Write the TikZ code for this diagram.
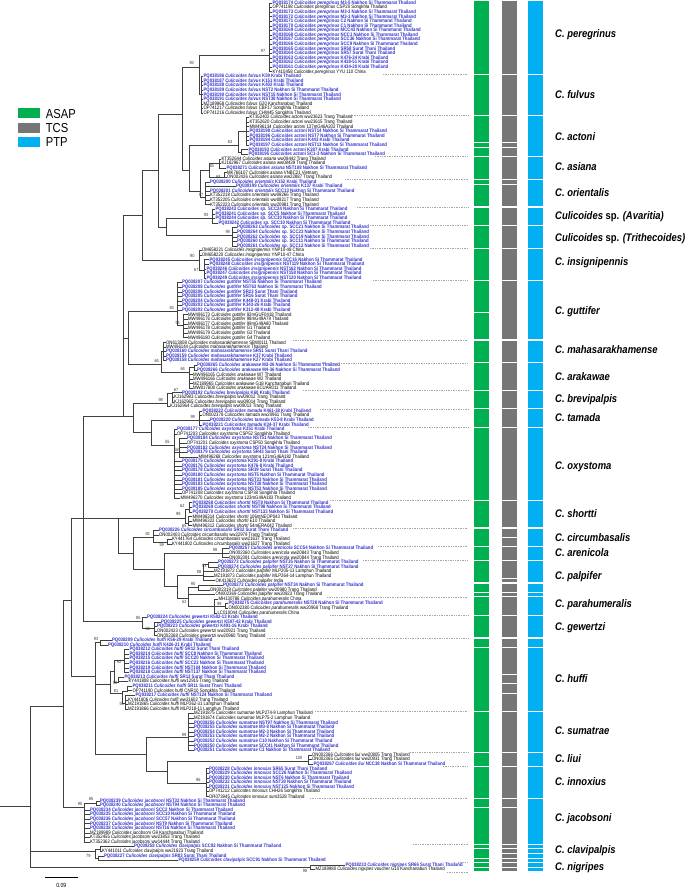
\documentclass[tikz,border=0pt]{standalone}
\usepackage{fontspec}
\setmainfont{Liberation Sans}
\newfontfamily\narrow[FakeStretch=0.86]{Liberation Sans}
\usepackage{xcolor}
\usepackage{tikz}

\definecolor{pqblue}{RGB}{51,51,204}
\definecolor{asapgreen}{RGB}{0,176,80}
\definecolor{tcsgray}{RGB}{118,118,118}
\definecolor{ptpblue}{RGB}{0,176,240}

\tikzset{
  branch/.style={draw=black!75, line width=0.6pt},
  leaf/.style={anchor=west, inner xsep=0.4pt, inner ysep=0pt, font=\narrow\fontsize{5}{5}\selectfont},
  pqtxt/.style={text=pqblue, font=\narrow\fontsize{5}{5}\selectfont\bfseries},
  boot/.style={font=\narrow\fontsize{4.5}{4.5}\selectfont, inner sep=0pt, text=black!80},
  species/.style={anchor=west, inner sep=0pt, font=\narrow\fontsize{11}{11}\selectfont\bfseries\itshape},
  keytext/.style={anchor=west, inner sep=0pt, font=\narrow\fontsize{13}{13}\selectfont},
  keybox/.style={minimum width=21.7pt, minimum height=10pt, inner sep=0pt},
  sepline/.style={draw=black!35, line width=0.4pt, dash pattern=on 1pt off 0.7pt},
  asap/.style={fill=asapgreen}, tcs/.style={fill=tcsgray}, ptp/.style={fill=ptpblue}
}

% one leaf per row, rows 4.585pt apart
\newcommand\pqleaf[5]{\node[leaf,pqtxt] (r#1) at (#2,{3+4.585*(#1-1)}) {#3 \textit{Culicoides #4} #5};}
\newcommand\gbleaf[5]{\node[leaf] (r#1) at (#2,{3+4.585*(#1-1)}) {#3 \textit{Culicoides #4} #5};}
% coloured block over rows #3..#4
\newcommand\colseg[4]{\fill[#1] (#2,{3+4.585*(#3-1)-1.75}) rectangle ++(14.7,{4.585*(#4-#3)+3.5});}

\begin{document}
\begin{tikzpicture}[x=1pt,y=-1pt]
\useasboundingbox (0,0) rectangle (685,891);

% legend
\node[keybox,asap] (kasap) at (29.2,113.3) {};
\node[keybox,tcs] (ktcs) at (29.2,127.7) {};
\node[keybox,ptp] (kptp) at (29.2,142) {};
\node[keytext] (tasap) at (45.7,113.6) {ASAP};
\node[keytext] (ttcs) at (45.7,127.9) {TCS};
\node[keytext] (tptp) at (45.7,142.2) {PTP};

% leaves
\pqleaf{1}{272}{PQ038174}{peregrinus}{M3-5 Nakhon Si Thammarat Thailand}
\gbleaf{2}{272}{OP741198}{peregrinus}{CSP20 Songkhla Thailand}
\pqleaf{3}{272}{PQ038173}{peregrinus}{M3-3 Nakhon Si Thammarat Thailand}
\pqleaf{4}{272}{PQ038172}{peregrinus}{M3-1 Nakhon Si Thammarat Thailand}
\pqleaf{5}{272}{PQ038171}{peregrinus}{C2 Nakhon Si Thammarat Thailand}
\pqleaf{6}{272}{PQ038170}{peregrinus}{C1 Nakhon Si Thammarat Thailand}
\pqleaf{7}{272}{PQ038169}{peregrinus}{MCC43 Nakhon Si Thammarat Thailand}
\pqleaf{8}{272}{PQ038168}{peregrinus}{NCC1 Nakhon Si Thammarat Thailand}
\pqleaf{9}{272}{PQ038167}{peregrinus}{SCC36 Nakhon Si Thammarat Thailand}
\pqleaf{10}{272}{PQ038166}{peregrinus}{SCC9 Nakhon Si Thammarat Thailand}
\pqleaf{11}{272}{PQ038165}{peregrinus}{SR58 Surat Thani Thailand}
\pqleaf{12}{272}{PQ038164}{peregrinus}{SR57 Surat Thani Thailand}
\pqleaf{13}{272}{PQ038163}{peregrinus}{K476-34 Krabi Thailand}
\pqleaf{14}{272}{PQ038162}{peregrinus}{K438-51 Krabi Thailand}
\pqleaf{15}{272}{PQ038161}{peregrinus}{K434-20 Krabi Thailand}
\gbleaf{16}{272}{KY410458}{peregrinus}{YYU 110 China}
\pqleaf{17}{203}{PQ038186}{fulvus}{K59 Krabi Thailand}
\pqleaf{18}{203}{PQ038187}{fulvus}{K151 Krabi Thailand}
\pqleaf{19}{203}{PQ038188}{fulvus}{K402 Krabi Thailand}
\pqleaf{20}{203}{PQ038189}{fulvus}{NST2 Nakhon Si Thammarat Thailand}
\pqleaf{21}{203}{PQ038190}{fulvus}{NST15 Nakhon Si Thammarat Thailand}
\pqleaf{22}{203}{PQ038191}{fulvus}{NST38 Nakhon Si Thammarat Thailand}
\gbleaf{23}{203}{MZ189968}{fulvus}{G20 Kanchanaburi Thailand}
\gbleaf{24}{203}{OP741217}{fulvus}{CBF17 Songkhla Thailand}
\gbleaf{25}{203}{OP741216}{fulvus}{CHW45 Songkhla Thailand}
\gbleaf{26}{249}{KT352402}{actoni}{ww23623 Trang Thailand}
\gbleaf{27}{249}{KT352620}{actoni}{ww23615 Trang Thailand}
\gbleaf{28}{249}{MW496134}{actoni}{137mG46A202 Thailand}
\pqleaf{29}{249}{PQ038198}{actoni}{NST14 Nakhon Si Thammarat Thailand}
\pqleaf{30}{249}{PQ038196}{actoni}{NST7 Nakhon Si Thammarat Thailand}
\pqleaf{31}{249}{PQ038194}{actoni}{K443 Krabi Thailand}
\pqleaf{32}{249}{PQ038197}{actoni}{NST13 Nakhon Si Thammarat Thailand}
\pqleaf{33}{248}{PQ038193}{actoni}{K287 Krabi Thailand}
\pqleaf{34}{248}{PQ038195}{actoni}{SC1-3 Nakhon Si Thammarat Thailand}
\gbleaf{35}{221}{KT352644}{asiana}{ww08442 Trang Thailand}
\gbleaf{36}{221}{KJ162967}{asiana}{ww08439 Trang Thailand}
\pqleaf{37}{226}{PQ038271}{asiana}{NST108 Nakhon Si Thammarat Thailand}
\gbleaf{38}{226.5}{MK766107}{asiana}{VNBC21 Vietnam}
\gbleaf{39}{226.5}{ON002426}{asiana}{ww22887 Trang Thailand}
\pqleaf{40}{209.5}{PQ038200}{orientalis}{K152 Krabi Thailand}
\pqleaf{41}{235.5}{PQ038199}{orientalis}{K137 Krabi Thailand}
\pqleaf{42}{209.5}{PQ038201}{orientalis}{SCC13 Nakhon Si Thammarat Thailand}
\gbleaf{43}{209.5}{KT352218}{orientalis}{ww08266 Trang Thailand}
\gbleaf{44}{209.5}{KT352205}{orientalis}{ww08217 Trang Thailand}
\gbleaf{45}{209.5}{KT352223}{orientalis}{ww20981 Trang Thailand}
\pqleaf{46}{215}{PQ038243}{sp.}{SCC24 Nakhon Si Thammarat Thailand}
\pqleaf{47}{215}{PQ038241}{sp.}{SCC5 Nakhon Si Thammarat Thailand}
\pqleaf{48}{215}{PQ038244}{sp.}{SCC30 Nakhon Si Thammarat Thailand}
\pqleaf{49}{218}{PQ038242}{sp.}{SCC10 Nakhon Si Thammarat Thailand}
\pqleaf{50}{236.5}{PQ038263}{sp.}{SCC21 Nakhon Si Thammarat Thailand}
\pqleaf{51}{236.5}{PQ038264}{sp.}{SCC23 Nakhon Si Thammarat Thailand}
\pqleaf{52}{236.5}{PQ038262}{sp.}{SCC19 Nakhon Si Thammarat Thailand}
\pqleaf{53}{236.5}{PQ038260}{sp.}{SCC11 Nakhon Si Thammarat Thailand}
\pqleaf{54}{236.5}{PQ038261}{sp.}{SCC12 Nakhon Si Thammarat Thailand}
\gbleaf{55}{201.5}{OM658221}{insignipennis}{YNP10-48 China}
\gbleaf{56}{201.5}{OM658220}{insignipennis}{YNP10-47 China}
\pqleaf{57}{209}{PQ038245}{insignipennis}{SCC16 Nakhon Si Thammarat Thailand}
\pqleaf{58}{209}{PQ038248}{insignipennis}{NST119 Nakhon Si Thammarat Thailand}
\pqleaf{59}{206}{PQ038246}{insignipennis}{NST162 Nakhon Si Thammarat Thailand}
\pqleaf{60}{206}{PQ038247}{insignipennis}{NST158 Nakhon Si Thammarat Thailand}
\pqleaf{61}{206}{PQ038249}{insignipennis}{NST120 Nakhon Si Thammarat Thailand}
\pqleaf{62}{181.5}{PQ038207}{guttifer}{NST55 Nakhon Si Thammarat Thailand}
\pqleaf{63}{181.5}{PQ038208}{guttifer}{NST63 Nakhon Si Thammarat Thailand}
\pqleaf{64}{181.5}{PQ038206}{guttifer}{SR23 Surat Thani Thailand}
\pqleaf{65}{181.5}{PQ038205}{guttifer}{SR16 Surat Thani Thailand}
\pqleaf{66}{181.5}{PQ038204}{guttifer}{K448-01 Krabi Thailand}
\pqleaf{67}{181.5}{PQ038203}{guttifer}{K343-26 Krabi Thailand}
\pqleaf{68}{181.5}{PQ038202}{guttifer}{K312-48 Krabi Thailand}
\gbleaf{69}{187.5}{MW496173}{guttifer}{92mGUF0418 Thailand}
\gbleaf{70}{187.5}{MW496176}{guttifer}{98mG49A79 Thailand}
\gbleaf{71}{187.5}{MW496177}{guttifer}{99mG49A80 Thailand}
\gbleaf{72}{187.5}{MW496178}{guttifer}{G1 Thailand}
\gbleaf{73}{187.5}{MW496179}{guttifer}{G2 Thailand}
\gbleaf{74}{187.5}{MW496180}{guttifer}{G4 Thailand}
\gbleaf{75}{165.5}{ON613808}{mahasarakhamense}{SBW0111 Thailand}
\gbleaf{76}{165.5}{MW496144}{mahasarakhamensis}{Thailand}
\pqleaf{77}{165.5}{PQ038160}{mahasarakhamense}{SR51 Surat Thani Thailand}
\pqleaf{78}{165.5}{PQ038159}{mahasarakhamense}{K37 Krabi Thailand}
\pqleaf{79}{165.5}{PQ038158}{mahasarakhamense}{K27 Krabi Thailand}
\pqleaf{80}{196.5}{PQ038265}{arakawae}{M3-26 Nakhon Si Thammarat Thailand}
\pqleaf{81}{196.5}{PQ038266}{arakawae}{M4-36 Nakhon Si Thammarat Thailand}
\gbleaf{82}{192.5}{MW496165}{arakawae}{W7 Thailand}
\gbleaf{83}{192.5}{MW496166}{arakawae}{W2 Thailand}
\gbleaf{84}{192.5}{MZ189965}{arakawae}{G18 Kanchanaburi Thailand}
\gbleaf{85}{192.5}{MW817608}{arakawae}{6CUAR011 Thailand}
\pqleaf{86}{181.5}{PQ038192}{brevipalpis}{K60 Krabi Thailand}
\gbleaf{87}{173.5}{KJ162983}{brevipalpis}{ww09012 Trang Thailand}
\gbleaf{88}{173.5}{KJ162965}{brevipalpis}{ww09014 Trang Thailand}
\gbleaf{89}{169.5}{KJ162964}{brevipalpis}{ww09013 Trang Thailand}
\pqleaf{90}{202}{PQ038222}{tamada}{K461-38 Krabi Thailand}
\gbleaf{91}{202}{ON002378}{tamada}{ww20961 Trang Thailand}
\pqleaf{92}{209.5}{PQ038220}{tamada}{K53-8 Krabi Thailand}
\pqleaf{93}{202}{PQ038221}{tamada}{K34-37 Krabi Thailand}
\pqleaf{94}{176.5}{PQ038177}{oxystoma}{K351 Krabi Thailand}
\gbleaf{95}{176.5}{OP741203}{oxystoma}{CSP52 Songkhla Thailand}
\pqleaf{96}{186.5}{PQ038184}{oxystoma}{NST51 Nakhon Si Thammarat Thailand}
\gbleaf{97}{186.5}{OP741201}{oxystoma}{CSP50 Songkhla Thailand}
\pqleaf{98}{186.5}{PQ038182}{oxystoma}{NST34 Nakhon Si Thammarat Thailand}
\pqleaf{99}{186.5}{PQ038179}{oxystoma}{SR43 Surat Thani Thailand}
\gbleaf{100}{198}{MW496268}{oxystoma}{121mG46A182 Thailand}
\pqleaf{101}{181.5}{PQ038175}{oxystoma}{K291-8 Krabi Thailand}
\pqleaf{102}{181.5}{PQ038176}{oxystoma}{K476-8 Krabi Thailand}
\pqleaf{103}{181.5}{PQ038178}{oxystoma}{SR39 Surat Thani Thailand}
\pqleaf{104}{181.5}{PQ038180}{oxystoma}{NST5 Nakhon Si Thammarat Thailand}
\pqleaf{105}{181.5}{PQ038181}{oxystoma}{NST33 Nakhon Si Thammarat Thailand}
\pqleaf{106}{181.5}{PQ038183}{oxystoma}{NST38 Nakhon Si Thammarat Thailand}
\pqleaf{107}{181.5}{PQ038185}{oxystoma}{NST52 Nakhon Si Thammarat Thailand}
\gbleaf{108}{181.5}{OP741208}{oxystoma}{CSP38 Songkhla Thailand}
\gbleaf{109}{180}{MW496270}{oxystoma}{123mG49A183 Thailand}
\pqleaf{110}{192}{PQ038268}{shortti}{NST8 Nakhon Si Thammarat Thailand}
\pqleaf{111}{192}{PQ038269}{shortti}{NST98 Nakhon Si Thammarat Thailand}
\pqleaf{112}{192}{PQ038270}{shortti}{NST133 Nakhon Si Thammarat Thailand}
\gbleaf{113}{192}{MW496314}{shortti}{106mNEOP043 Thailand}
\gbleaf{114}{192}{MW496322}{shortti}{E10 Thailand}
\gbleaf{115}{192}{MW496312}{shortti}{54mERA042 Thailand}
\pqleaf{116}{158.5}{PQ038226}{circumbasalis}{SR32 Surat Thani Thailand}
\gbleaf{117}{158.5}{ON002403}{circumbasalis}{ww22979 Trang Thailand}
\gbleaf{118}{171.5}{KY441764}{circumbasalis}{ww21637 Trang Thailand}
\gbleaf{119}{171.5}{KY441802}{circumbasalis}{ww21627 Trang Thailand}
\pqleaf{120}{228.5}{PQ038257}{arenicola}{SCC54 Nakhon Si Thammarat Thailand}
\gbleaf{121}{228.5}{ON002360}{arenicola}{ww20843 Trang Thailand}
\gbleaf{122}{228.5}{ON002391}{arenicola}{ww20844 Trang Thailand}
\pqleaf{123}{217.5}{PQ038273}{palpifer}{NST25 Nakhon Si Thammarat Thailand}
\pqleaf{124}{217.5}{PQ038274}{palpifer}{NST27 Nakhon Si Thammarat Thailand}
\gbleaf{125}{213.5}{MZ191872}{palpifer}{MLP205-13 Lamphun Thailand}
\gbleaf{126}{213.5}{MZ191873}{palpifer}{MLP264-14 Lamphun Thailand}
\gbleaf{127}{215}{OK413622}{palpifer}{India}
\pqleaf{128}{222.5}{PQ038272}{palpifer}{NST34 Nakhon Si Thammarat Thailand}
\gbleaf{129}{209.5}{ON002319}{palpifer}{ww20980 Trang Thailand}
\gbleaf{130}{215}{ON002369}{palpifer}{ww20923 Trang Thailand}
\gbleaf{131}{218}{MH130786}{parahumeralis}{China}
\pqleaf{132}{228}{PQ038275}{parahumeralis}{NST28 Nakhon Si Thammarat Thailand}
\gbleaf{133}{228}{ON002380}{parahumeralis}{ww20968 Trang Thailand}
\gbleaf{134}{217}{LC010044}{parahumeralis}{China}
\pqleaf{135}{146.5}{PQ038224}{gewertzi}{K502-13 Krabi Thailand}
\pqleaf{136}{160.5}{PQ038225}{gewertzi}{K507-42 Krabi Thailand}
\pqleaf{137}{156.5}{PQ038223}{gewertzi}{K491-16 Krabi Thailand}
\gbleaf{138}{156.5}{ON002423}{gewertzi}{ww20921 Trang Thailand}
\gbleaf{139}{156.5}{ON002368}{gewertzi}{ww20960 Trang Thailand}
\pqleaf{140}{111.5}{PQ038209}{huffi}{K56-29 Krabi Thailand}
\pqleaf{141}{107.5}{PQ038210}{huffi}{K426-21 Krabi Thailand}
\pqleaf{142}{129}{PQ038212}{huffi}{SR12 Surat Thani Thailand}
\pqleaf{143}{129}{PQ038214}{huffi}{SCC8 Nakhon Si Thammarat Thailand}
\pqleaf{144}{129}{PQ038215}{huffi}{SCC20 Nakhon Si Thammarat Thailand}
\pqleaf{145}{129}{PQ038216}{huffi}{SCC22 Nakhon Si Thammarat Thailand}
\pqleaf{146}{129}{PQ038219}{huffi}{NST104 Nakhon Si Thammarat Thailand}
\pqleaf{147}{129}{PQ038218}{huffi}{NST137 Nakhon Si Thammarat Thailand}
\pqleaf{148}{124}{PQ038213}{huffi}{SR13 Surat Thani Thailand}
\gbleaf{149}{128}{KY441808}{huffi}{ww12915 Trang Thailand}
\pqleaf{150}{132}{PQ038211}{huffi}{SR11 Surat Thani Thailand}
\gbleaf{151}{132}{OP741190}{huffi}{CNR10 Songkhla Thailand}
\pqleaf{152}{135}{PQ038217}{huffi}{NST124 Nakhon Si Thammarat Thailand}
\gbleaf{153}{127.5}{KY441806}{huffi}{ww21602 Trang Thailand}
\gbleaf{154}{127.5}{MZ191865}{huffi}{MLP262-31 Lamphun Thailand}
\gbleaf{155}{127.5}{MZ191866}{huffi}{MLP218-11 Lamphun Thailand}
\gbleaf{156}{193.5}{MZ191875}{sumatrae}{MLP274-9 Lamphun Thailand}
\gbleaf{157}{193.5}{MZ191874}{sumatrae}{MLP75-2 Lamphun Thailand}
\pqleaf{158}{193.5}{PQ038256}{sumatrae}{NST97 Nakhon Si Thammarat Thailand}
\pqleaf{159}{193.5}{PQ038255}{sumatrae}{M3-8 Nakhon Si Thammarat Thailand}
\pqleaf{160}{193.5}{PQ038254}{sumatrae}{M2-3 Nakhon Si Thammarat Thailand}
\pqleaf{161}{193.5}{PQ038253}{sumatrae}{M2-2 Nakhon Si Thammarat Thailand}
\pqleaf{162}{193.5}{PQ038252}{sumatrae}{C10 Nakhon Si Thammarat Thailand}
\pqleaf{163}{193.5}{PQ038250}{sumatrae}{SCC41 Nakhon Si Thammarat Thailand}
\pqleaf{164}{193.5}{PQ038251}{sumatrae}{C3 Nakhon Si Thammarat Thailand}
\gbleaf{165}{311.5}{ON002366}{liui}{ww20805 Trang Thailand}
\gbleaf{166}{311.5}{ON002365}{liui}{ww20931 Trang Thailand}
\pqleaf{167}{313}{PQ038267}{liui}{NCC38 Nakhon Si Thammarat Thailand}
\pqleaf{168}{208.5}{PQ038228}{innoxius}{SR65 Surat Thani Thailand}
\pqleaf{169}{208.5}{PQ038229}{innoxius}{SCC26 Nakhon Si Thammarat Thailand}
\pqleaf{170}{208.5}{PQ038230}{innoxius}{NST6 Nakhon Si Thammarat Thailand}
\pqleaf{171}{208.5}{PQ038232}{innoxius}{NST30 Nakhon Si Thammarat Thailand}
\pqleaf{172}{208.5}{PQ038231}{innoxius}{NST125 Nakhon Si Thammarat Thailand}
\gbleaf{173}{208.5}{OP741212}{innoxius}{CHH26 Songkhla Thailand}
\gbleaf{174}{208.5}{OR073945}{innoxius}{sum3528 Thailand}
\pqleaf{175}{99.5}{PQ038239}{jacobsoni}{NST32 Nakhon Si Thammarat Thailand}
\pqleaf{176}{99.5}{PQ038240}{jacobsoni}{NST94 Nakhon Si Thammarat Thailand}
\pqleaf{177}{89.5}{PQ038234}{jacobsoni}{SCC2 Nakhon Si Thammarat Thailand}
\pqleaf{178}{89.5}{PQ038235}{jacobsoni}{SCC10 Nakhon Si Thammarat Thailand}
\pqleaf{179}{89.5}{PQ038236}{jacobsoni}{SCC57 Nakhon Si Thammarat Thailand}
\pqleaf{180}{89.5}{PQ038237}{jacobsoni}{NST9 Nakhon Si Thammarat Thailand}
\pqleaf{181}{89.5}{PQ038238}{jacobsoni}{NST16 Nakhon Si Thammarat Thailand}
\gbleaf{182}{89.5}{MZ189989}{jacobsoni}{G9 Kanchanaburi Thailand}
\gbleaf{183}{89.5}{KT352455}{jacobsoni}{ww23853 Trang Thailand}
\gbleaf{184}{89.5}{KT352362}{jacobsoni}{ww14444 Trang Thailand}
\pqleaf{185}{133.5}{PQ038258}{clavipalpis}{SCC82 Nakhon Si Thammarat Thailand}
\gbleaf{186}{101.5}{KY441011}{clavipalpis}{ww21823 Trang Thailand}
\pqleaf{187}{103.5}{PQ038227}{clavipalpis}{SR83 Surat Thani Thailand}
\pqleaf{188}{178}{PQ038259}{clavipalpis}{SCC91 Nakhon Si Thammarat Thailand}
\pqleaf{189}{345}{PQ038233}{nigripes}{SR66 Surat Thani Thailand}
\gbleaf{190}{315}{MZ189980}{nigripes}{voucher G10 Kanchanaburi Thailand}

% internal nodes of the tree
\foreach \n/\x/\y in {
  P1/269/55.7, F1/201.5/94.5, H/199/67,
  A1/246.5/131, A2/241/152, A0/238/145.7,
  AS1/219/163, AS2/224/177.2, AS/209/170, OR/205.5/197, AO/200.3/191.7,
  I/189/170, G/182.7/114.3,
  AV/212/218.3, TR/232.5/235, AT/166.7/227.7, J/158/170,
  IN2/204/270, IN/199/260, K/142.7/215,
  GU2/183/325.5, GU/177/311.7, MH/163.5/351.5, AR1/194/367.5, AR/189/372.7,
  MA/161.7/364, M/128.3/338,
  BV1/172/393, BV/167/403, TA/199/420.7, OX1/179.5/452, OX/174/445,
  TO/151.7/432.3, BT/133.3/416.7, L/123.3/416.7,
  SH1/189.5/509.3, SH2/188.5/523, SH/185/518.3,
  CI2/167/542.2, CI/153.3/537.7, AN/222/553.3,
  PL1a/208/564.7, PL1/203.3/575, PL3/198/587.6, PH1/225/606.1, PH0/214/606,
  PL2/188.3/598.3, PL0/177.7/586.7, AP/164.3/569, E/133.3/553.3, Dp/118.3/518.3,
  GW1/154/628, GW/142/621.7, B/83.3/518.3,
  HUa/100/642.3, HUe/124.5/660, HUf/118/682.4, HUc/114.3/671.7,
  HUg/127/691.6, HUh/125/703, HUd/122.3/693.3, HUb/110/684.3, C/95/676.7,
  SU/188.3/737.3, LU/308.3/761, NX/206/783.3, LI/167.3/771.7, SL/146.7/754.3,
  A/71.7/600, JA1/96.7/803.1, JA/84/807.3, X1/63.3/706.7,
  CL1/100/849, CL2/98.3/858.1, CL/95/851.7, NG/310/867.3, R/30/806, R0/0/806}
  \coordinate (\n) at (\x,\y);

% branches between internal nodes
\foreach \p/\c in {H/P1, H/F1, A0/A1, A0/A2, AS/AS1, AS/AS2, AO/AS, AO/OR,
  I/A0, I/AO, G/H, G/I, AT/AV, AT/TR, J/G, J/AT, IN/IN2, K/J, K/IN,
  GU/GU2, AR/AR1, MA/MH, MA/AR, M/GU, M/MA, BV/BV1, OX/OX1, TO/TA, TO/OX,
  BT/BV, BT/TO, L/K, L/M, L/BT, SH/SH1, SH/SH2, CI/CI2,
  PL1/PL1a, PL2/PL3, PL2/PH0, PH0/PH1, PL0/PL1, PL0/PL2, AP/AN, AP/PL0,
  E/CI, E/AP, Dp/SH, Dp/E, GW/GW1, B/L, B/Dp, B/GW,
  HUc/HUe, HUc/HUf, HUd/HUg, HUd/HUh, HUb/HUc, HUb/HUd, C/HUa, C/HUb, C/SL,
  LI/LU, LI/NX, SL/SU, SL/LI, A/B, A/C, JA/JA1, X1/A, X1/JA,
  CL/CL1, CL/CL2, R/X1, R/CL, R/NG}
  \draw[branch] (\p) |- (\c);
\draw[branch] (R0) -- (R);

% branches to the leaves
\foreach \c/\a/\b in {P1/1/16, F1/17/25, A1/26/32, A2/33/34, AS1/35/37, AS2/38/39,
  OR/40/45, AV/46/49, TR/50/54, IN/55/56, IN2/57/61, GU/62/68, GU2/69/74,
  MH/75/79, AR1/80/81, AR/82/85, BV1/86/88, BV/89/89, TA/90/93, OX/94/95,
  OX1/96/100, OX/101/109, SH1/110/112, SH2/113/115, CI/116/117, CI2/118/119,
  AN/120/122, PL1a/123/124, PL1/125/127, PL3/128/129, PL2/130/130, PH0/131/131,
  PH1/132/133, PH0/134/134, GW/135/135, GW1/136/139, HUa/140/141, HUe/142/147,
  HUf/148/149, HUg/150/151, HUh/152/155, SU/156/164, LU/165/167, NX/168/174,
  JA1/175/176, JA/177/184, CL1/185/186, CL2/187/188, NG/189/190}
  {\foreach \r in {\a,...,\b}
    {\draw[branch] (\c) |- (r\r.west);}}

% support values
\foreach \x/\y/\v [count=\i] in {263/51/97, 191.7/63.3/93, 230/142.3/63, 211.7/165.7/65,
  218.3/177.3/68, 201/195/57, 206/215/93, 227.7/231.7/99, 192.3/256/90, 196.3/270.3/67,
  171.7/308/83, 177.7/322.7/54, 156.7/361/64, 182.7/369/64, 176/390.2/67, 160.7/399.5/98,
  192.7/417.3/99, 167.3/441.7/55, 176.7/449.7/58, 182.3/506.3/62, 178.3/514.3/98,
  184.3/526.2/65, 147.7/534.3/82, 161.7/545/59, 215/550/98, 204.3/565.7/53, 199/572.3/88,
  193/584.3/95, 184.3/601.7/52, 219.3/604/98, 138.3/617.7/85, 147.7/629/50,
  96/639/93, 119/661.7/92, 115/682.7/58, 116/691/81, 121.7/704.3/55,
  184/735/99, 299/758.3/100, 198.3/779.7/96, 80/804/90, 91/798.7/85,
  88.3/856/79, 305/870.7/98}
  {\node[boot] (bs\i) at (\x,\y) {\v};}

% group separators
\foreach \r/\x in {16/383, 25/352, 34/375, 39/345, 45/357, 49/370, 54/370, 61/373,
  74/293, 79/300, 85/303, 89/320, 93/308, 109/330, 115/293, 119/378, 122/363,
  130/327, 134/330, 139/267, 155/315, 164/410, 167/443, 174/310, 184/413,
  188/458, 190/447}
  {\draw[sepline] (\x,{3+4.585*(\r-1)+2.29}) -- (468,{3+4.585*(\r-1)+2.29});}

% ASAP, TCS and PTP columns
\foreach \a/\b in {1/16, 17/25, 26/31, 32/32, 33/34, 35/39, 40/40, 41/45, 46/49, 50/54,
  55/61, 62/68, 69/74, 75/79, 80/85, 86/89, 90/93, 94/109, 110/115, 116/119, 120/122,
  123/127, 128/129, 130/130, 131/134, 135/139, 140/141, 142/155, 156/164, 165/167,
  168/174, 175/176, 177/184, 185/185, 186/187, 188/188, 189/189, 190/190}
  {\colseg{asap}{474}{\a}{\b}}
\foreach \a/\b in {1/16, 17/25, 26/31, 32/32, 33/34, 35/39, 40/40, 41/45, 46/49, 50/54,
  55/61, 62/74, 75/79, 80/85, 86/89, 90/93, 94/109, 110/115, 116/117, 118/119, 120/122,
  123/126, 127/127, 128/129, 130/130, 131/134, 135/139, 140/141, 142/147, 148/149,
  150/151, 152/155, 156/164, 165/167, 168/174, 175/176, 177/184, 185/185, 186/186,
  187/187, 188/188, 189/189, 190/190}
  {\colseg{tcs}{502}{\a}{\b}}
\foreach \a/\b in {1/16, 17/25, 26/34, 35/39, 40/45, 46/49, 50/54, 55/61, 62/74, 75/79,
  80/85, 86/89, 90/93, 94/109, 110/115, 116/119, 120/122, 123/127, 128/129, 130/130,
  131/134, 135/139, 140/141, 142/155, 156/164, 165/167, 168/174, 175/184, 185/185,
  186/186, 187/187, 188/188, 189/189, 190/190}
  {\colseg{ptp}{528.3}{\a}{\b}}

% species names
\node[species] (sp1) at (555,35) {C. peregrinus};
\node[species] (sp2) at (555,95) {C. fulvus};
\node[species] (sp3) at (555,136.7) {C. actoni};
\node[species] (sp4) at (555,166.7) {C. asiana};
\node[species] (sp5) at (555,192.7) {C. orientalis};
\node[species] (sp6) at (555,216.7) {Culicoides \textup{sp.} (Avaritia)};
\node[species] (sp7) at (555,238.3) {Culicoides \textup{sp.} (Trithecoides)};
\node[species] (sp8) at (555,262.7) {C. insignipennis};
\node[species] (sp9) at (555,311.7) {C. guttifer};
\node[species] (sp10) at (555,350) {C. mahasarakhamense};
\node[species] (sp11) at (555,376.7) {C. arakawae};
\node[species] (sp12) at (555,399.3) {C. brevipalpis};
\node[species] (sp13) at (555,417.3) {C. tamada};
\node[species] (sp14) at (555,466.7) {C. oxystoma};
\node[species] (sp15) at (555,513.3) {C. shortti};
\node[species] (sp16) at (555,537.3) {C. circumbasalis};
\node[species] (sp17) at (555,552.7) {C. arenicola};
\node[species] (sp18) at (555,576.7) {C. palpifer};
\node[species] (sp19) at (555,604.7) {C. parahumeralis};
\node[species] (sp20) at (555,627.3) {C. gewertzi};
\node[species] (sp21) at (555,678.3) {C. huffi};
\node[species] (sp22) at (555,731) {C. sumatrae};
\node[species] (sp23) at (555,758.3) {C. liui};
\node[species] (sp24) at (555,781.7) {C. innoxius};
\node[species] (sp25) at (555,819) {C. jacobsoni};
\node[species] (sp26) at (555,851) {C. clavipalpis};
\node[species] (sp27) at (555,867.3) {C. nigripes};

% scale bar
\coordinate (sb1) at (45,877.7);
\coordinate (sb2) at (77.7,877.7);
\draw[line width=0.8pt] (sb1) -- (sb2);
\node[font=\narrow\fontsize{6}{6}\selectfont, inner sep=0pt] (sblabel) at (61.3,885.7) {0.09};
\end{tikzpicture}
\end{document}
